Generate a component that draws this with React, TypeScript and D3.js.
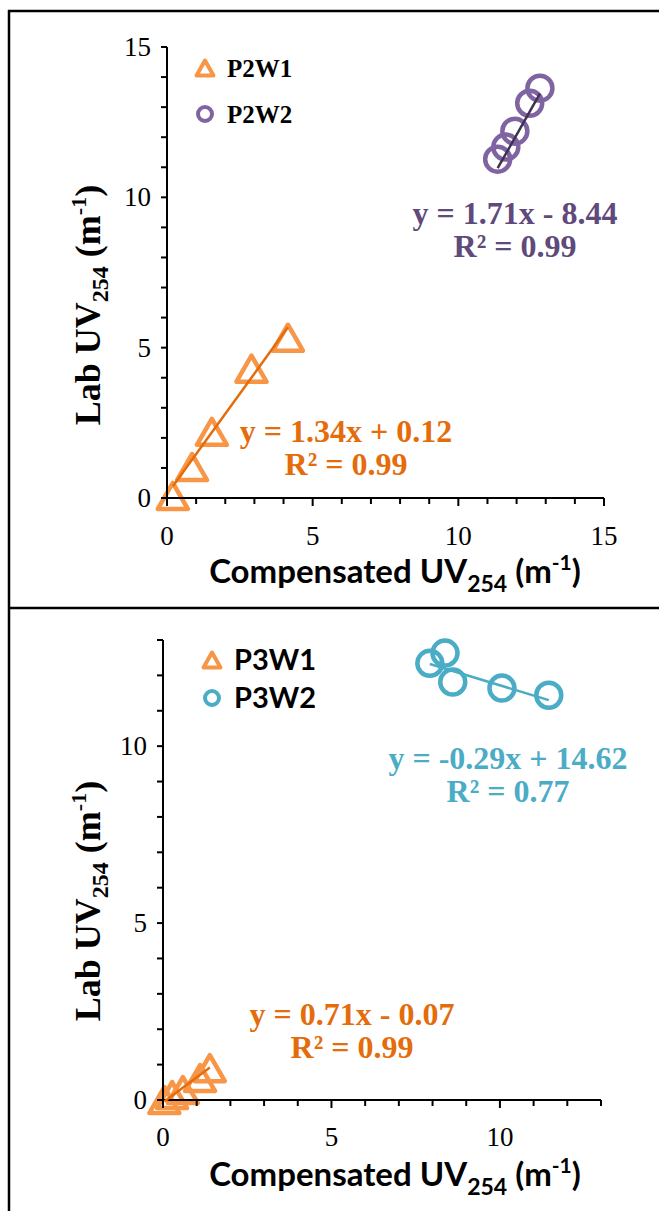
import React from "react";
import * as d3 from "d3";

// ---- data ----
const P2W1_X = [0.2, 0.86, 1.54, 2.9, 4.15];
const P2W1_Y = [0.07, 1.03, 2.2, 4.3, 5.33];
const P2W2_X = [11.35, 11.63, 11.94, 12.45, 12.8];
const P2W2_Y = [11.27, 11.67, 12.2, 13.13, 13.63];

const P3W1_X = [0.04, 0.27, 0.59, 1.1, 1.39];
const P3W1_Y = [0.0, 0.14, 0.28, 0.62, 0.9];
const P3W2_X = [7.92, 8.37, 8.6, 10.06, 11.45];
const P3W2_Y = [12.34, 12.63, 11.81, 11.64, 11.44];

// trendline fits: [slope, intercept]
const FIT_P2W1 = [1.34, 0.12];
const FIT_P2W2 = [1.71, -8.44];
const FIT_P3W1 = [0.71, -0.07];
const FIT_P3W2 = [-0.29, 14.62];

const EQ_P2W1 = ["y = 1.34x + 0.12", "R² = 0.99"];
const EQ_P2W2 = ["y = 1.71x - 8.44", "R² = 0.99"];
const EQ_P3W1 = ["y = 0.71x - 0.07", "R² = 0.99"];
const EQ_P3W2 = ["y = -0.29x + 14.62", "R² = 0.77"];

const TOP_TICKS = [0, 5, 10, 15];
const BOTTOM_TICKS = [0, 5, 10];

const ORANGE = "#F79646";
const ORANGE_DARK = "#E46C0A";
const PURPLE = "#8064A2";
const PURPLE_DARK = "#3F3151";
const PURPLE_TEXT = "#604A7B";
const TEAL = "#4BACC6";

const SERIF = "Liberation Serif, DejaVu Serif, Times New Roman, serif";
const SANS = "Lato, Open Sans, sans-serif";

type Series = {
  xs: number[];
  ys: number[];
  shape: "tri" | "circ";
  color: string;
  fit: number[];
  lineColor: string;
  eq: string[];
  eqColor: string;
  eqX: number;
  eqY: number;
};

function triPath(cx: number, cy: number, w: number, h: number) {
  const p = d3.path();
  p.moveTo(cx, cy - h / 2);
  p.lineTo(cx + w / 2, cy + h / 2);
  p.lineTo(cx - w / 2, cy + h / 2);
  p.closePath();
  return p.toString();
}

function Marker({ shape, x, y, color, big }: any) {
  if (shape === "tri") {
    const w = big ? 30 : 17;
    const h = big ? 26 : 15;
    return (
      <path
        d={triPath(x, y, w, h)}
        fill="none"
        stroke={color}
        strokeWidth={big ? 4.5 : 4}
        strokeLinejoin="round"
      />
    );
  }
  return (
    <circle
      cx={x}
      cy={y}
      r={big ? 12.5 : 7}
      fill="none"
      stroke={color}
      strokeWidth={big ? 4.5 : 4}
    />
  );
}

type PanelProps = {
  xRange: [number, number];
  yRange: [number, number];
  max: number;
  xTicks: number[];
  yTicks: number[];
  series: Series[];
  legend: { label: string; shape: "tri" | "circ"; color: string }[];
  legendX: number;
  legendY: number;
  legendGap: number;
  legendFont: string;
  legendSize: number;
  xLabelX: number;
  xLabelY: number;
  tickLabelY: number;
  yLabelX: number;
  yLabelY: number;
};

function Panel(props: PanelProps) {
  const x = d3.scaleLinear().domain([0, props.max]).range(props.xRange);
  const y = d3.scaleLinear().domain([0, props.max]).range(props.yRange);
  const minor = d3.range(0, props.max + 1);
  const x0 = x(0);
  const y0 = y(0);

  return (
    <g>
      {/* series markers */}
      {props.series.map((s, si) => (
        <g key={"s" + si}>
          {s.xs.map((xv, i) => (
            <Marker key={i} shape={s.shape} x={x(xv)} y={y(s.ys[i])} color={s.color} big />
          ))}
        </g>
      ))}

      {/* axes */}
      <line x1={x0} x2={x0} y1={y(props.max)} y2={y0} stroke="#000" strokeWidth={2} />
      <line x1={x0} x2={x(props.max)} y1={y0} y2={y0} stroke="#000" strokeWidth={2} />
      {minor.map((v) => (
        <line key={"yt" + v} x1={x0 - 6} x2={x0} y1={y(v)} y2={y(v)} stroke="#000" strokeWidth={2} />
      ))}
      {minor.map((v) => (
        <line
          key={"xt" + v}
          x1={x(v)}
          x2={x(v)}
          y1={y0}
          y2={y0 + (v % 5 === 0 ? 8 : 6)}
          stroke="#000"
          strokeWidth={2}
        />
      ))}
      {props.yTicks.map((v) => (
        <text
          key={"yl" + v}
          x={x0 - 16}
          y={y(v) + 9}
          textAnchor="end"
          style={{ fontFamily: SERIF, fontSize: 27 }}
        >
          {v}
        </text>
      ))}
      {props.xTicks.map((v) => (
        <text
          key={"xl" + v}
          x={x(v)}
          y={props.tickLabelY + 9}
          textAnchor="middle"
          style={{ fontFamily: SERIF, fontSize: 27 }}
        >
          {v}
        </text>
      ))}

      {/* trendlines */}
      {props.series.map((s, si) => {
        const [lo, hi] = d3.extent(s.xs) as [number, number];
        const pts: [number, number][] = [lo, hi].map((v) => [v, s.fit[0] * v + s.fit[1]]);
        const d = d3
          .line<[number, number]>()
          .x((p) => x(p[0]))
          .y((p) => y(p[1]))(pts) as string;
        return <path key={"tl" + si} d={d} stroke={s.lineColor} strokeWidth={2.5} fill="none" />;
      })}

      {/* equations */}
      {props.series.map((s, si) => (
        <text
          key={"eq" + si}
          textAnchor="middle"
          fill={s.eqColor}
          style={{ fontFamily: SERIF, fontWeight: "bold", fontSize: 32 }}
        >
          <tspan x={s.eqX} y={s.eqY}>{s.eq[0]}</tspan>
          <tspan x={s.eqX} y={s.eqY + 33}>{s.eq[1]}</tspan>
        </text>
      ))}

      {/* legend */}
      {props.legend.map((l, i) => (
        <g key={"lg" + i}>
          <Marker shape={l.shape} x={props.legendX} y={props.legendY + i * props.legendGap} color={l.color} />
          <text
            x={props.legendX + 22}
            y={props.legendY + i * props.legendGap + props.legendSize * 0.34}
            style={{ fontFamily: props.legendFont, fontWeight: "bold", fontSize: props.legendSize }}
          >
            {l.label}
          </text>
        </g>
      ))}

      {/* axis titles */}
      <text
        x={props.xLabelX}
        y={props.xLabelY}
        textAnchor="middle"
        style={{ fontFamily: SANS, fontWeight: "bold", fontSize: 33 }}
      >
        Compensated UV
        <tspan style={{ fontSize: 23 }} dy={9}>254</tspan>
        <tspan dy={-9}> (m</tspan>
        <tspan style={{ fontSize: 21 }} dy={-13}>-1</tspan>
        <tspan dy={13}>)</tspan>
      </text>
      <text
        transform={`translate(${props.yLabelX},${props.yLabelY}) rotate(-90)`}
        textAnchor="middle"
        style={{ fontFamily: SERIF, fontWeight: "bold", fontSize: 36 }}
      >
        Lab UV
        <tspan style={{ fontSize: 24 }} dy={8}>254</tspan>
        <tspan dy={-8}> (m</tspan>
        <tspan style={{ fontSize: 22 }} dy={-14}>-1</tspan>
        <tspan dy={14}>)</tspan>
      </text>
    </g>
  );
}

export default function App() {
  const topSeries: Series[] = [
    {
      xs: P2W1_X, ys: P2W1_Y, shape: "tri", color: ORANGE, fit: FIT_P2W1,
      lineColor: ORANGE_DARK, eq: EQ_P2W1, eqColor: ORANGE_DARK, eqX: 346, eqY: 442,
    },
    {
      xs: P2W2_X, ys: P2W2_Y, shape: "circ", color: PURPLE, fit: FIT_P2W2,
      lineColor: PURPLE_DARK, eq: EQ_P2W2, eqColor: PURPLE_TEXT, eqX: 515, eqY: 224,
    },
  ];
  const bottomSeries: Series[] = [
    {
      xs: P3W1_X, ys: P3W1_Y, shape: "tri", color: ORANGE, fit: FIT_P3W1,
      lineColor: ORANGE_DARK, eq: EQ_P3W1, eqColor: ORANGE_DARK, eqX: 352, eqY: 1025,
    },
    {
      xs: P3W2_X, ys: P3W2_Y, shape: "circ", color: TEAL, fit: FIT_P3W2,
      lineColor: TEAL, eq: EQ_P3W2, eqColor: TEAL, eqX: 508, eqY: 769,
    },
  ];

  return (
    <svg
      width={659}
      height={1211}
      style={{ position: "absolute", left: 0, top: 0, display: "block", background: "#fff" }}
    >
      <rect x={0} y={0} width={659} height={1211} fill="#fff" />
      {/* frame */}
      <line x1={8} x2={659} y1={11} y2={11} stroke="#000" strokeWidth={2.5} />
      <line x1={8} x2={659} y1={608} y2={608} stroke="#000" strokeWidth={2.5} />
      <line x1={9} x2={9} y1={10} y2={1211} stroke="#000" strokeWidth={2.5} />

      <Panel
        xRange={[167, 604]}
        yRange={[498, 47]}
        max={15}
        xTicks={TOP_TICKS}
        yTicks={TOP_TICKS}
        series={topSeries}
        legend={[
          { label: "P2W1", shape: "tri", color: ORANGE },
          { label: "P2W2", shape: "circ", color: PURPLE },
        ]}
        legendX={205}
        legendY={68}
        legendGap={46}
        legendFont={SERIF}
        legendSize={25}
        xLabelX={395}
        xLabelY={583}
        tickLabelY={536}
        yLabelX={100}
        yLabelY={305}
      />
      <Panel
        xRange={[163, 601]}
        yRange={[1100, 640]}
        max={13}
        xTicks={BOTTOM_TICKS}
        yTicks={BOTTOM_TICKS}
        series={bottomSeries}
        legend={[
          { label: "P3W1", shape: "tri", color: ORANGE },
          { label: "P3W2", shape: "circ", color: TEAL },
        ]}
        legendX={212}
        legendY={660}
        legendGap={38}
        legendFont={SANS}
        legendSize={29}
        xLabelX={395}
        xLabelY={1186}
        tickLabelY={1137}
        yLabelX={100}
        yLabelY={901}
      />
    </svg>
  );
}
